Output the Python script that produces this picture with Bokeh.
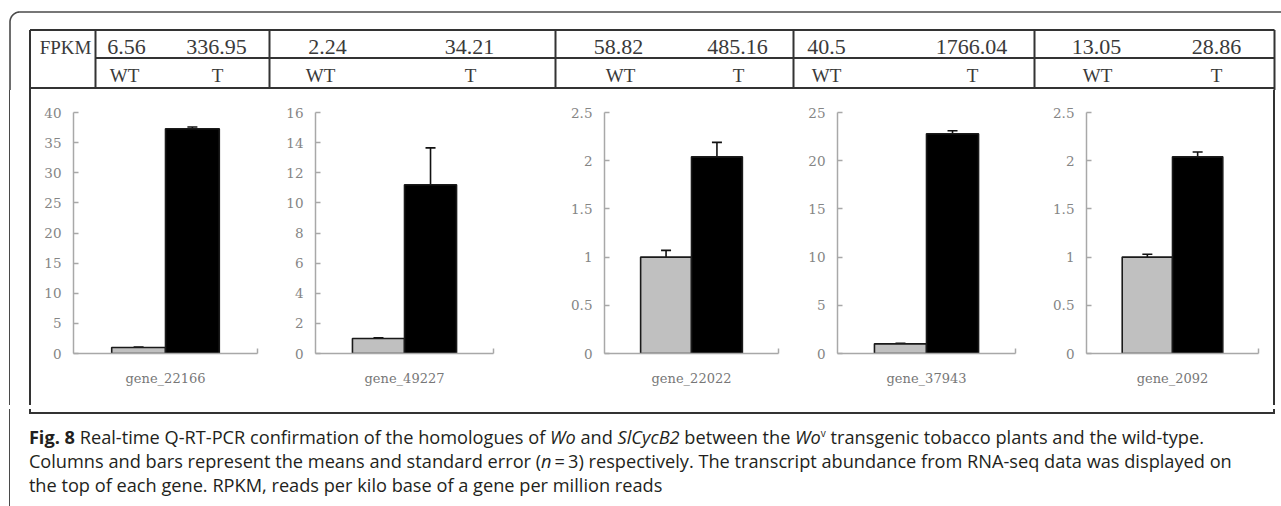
import numpy as np
from bokeh.plotting import figure
from bokeh.models import (Range1d, FixedTicker, Whisker, TeeHead, ColumnDataSource,
                          NumeralTickFormatter, CustomJSTickFormatter, Div)
from bokeh.layouts import row, column
from bokeh.core.properties import value
from bokeh.embed import file_html
from bokeh.resources import INLINE

# ---------------- data ----------------
genes = ["gene_22166", "gene_49227", "gene_22022", "gene_37943", "gene_2092"]
groups = ["WT", "T"]
fpkm_wt = [6.56, 2.24, 58.82, 40.5, 13.05]
fpkm_t = [336.95, 34.21, 485.16, 1766.04, 28.86]
wt_mean = [1.0, 1.0, 1.0, 1.0, 1.0]
wt_se = [0.08, 0.05, 0.07, 0.05, 0.03]
t_mean = [37.3, 11.2, 2.04, 22.8, 2.04]
t_se = [0.3, 2.45, 0.15, 0.3, 0.05]
y_max = [40, 16, 2.5, 25, 2.5]
y_step = [5, 2, 0.5, 5, 0.5]

# ---------------- layout / style constants (page pixels) ----------------
PAGE_L, PAGE_R = 0, 1281
TOP_Y0, TOP_Y1 = 0, 90
MID_H = 315
MID_Y1 = TOP_Y1 + MID_H
STRIP_H = 8
CAP_H = 506 - MID_Y1 - STRIP_H
OUTER_X, OUTER_Y, OUTER_R = 9.5, 11.5, 10
BOX_L, BOX_R = 29.5, 1274
TAB_TOP, TAB_MID, TAB_BOT = 29.5, 57.5, 87.5
BOX_BOT = 409
COL_EDGES = [95, 269, 555, 793, 1034]
FPKM_X = 65
NUM_WT_X = [126, 327, 618, 826, 1096]
NUM_T_X = [216, 469, 737, 971, 1216]
WT_X = [124, 320, 620, 826, 1097]
T_X = [217, 470, 738, 972, 1216]
ROW1_MID, ROW2_MID = 46.5, 75

PANEL_W = [240, 280, 240, 240, 223]
PANEL_BL = [33, 35, 44, 37, 46]
PANEL_BR = [23, 67, 22, 25, 5]
LEFT_W = 40
RIGHT_W = PAGE_R - PAGE_L - LEFT_W - sum(PANEL_W)
X_LO, X_HI = -0.21, 3.21

LINE_C = "#333333"
OUTER_C = "#4a4a4a"
AXIS_C = "#a8a8a8"
TEXT_C = "#3a3a3a"
WT_COLOR, T_COLOR = "#c0c0c0", "#000000"
SERIF = "Liberation Serif"
TICK_FONT = "DejaVu Serif"


def blank_fig(w, h, xr, yr):
    p = figure(width=w, height=h, x_range=Range1d(*xr), y_range=Range1d(*yr),
               x_axis_type=None, y_axis_type=None, min_border=0,
               toolbar_location=None, output_backend="svg")
    p.outline_line_color = None
    p.frame_align = False
    return p


def vline_html(h, lines):
    return "".join(
        '<div style="position:absolute; left:%.1fpx; top:0; width:0; height:%dpx; '
        'border-left:%.1fpx solid %s;"></div>' % (x - lw / 2, h, lw, c)
        for x, lw, c in lines)


def vline_div(w, h, lines):
    return Div(text='<div style="position:relative; width:%dpx; height:%dpx;">%s</div>'
               % (w, h, vline_html(h, lines)), width=w, height=h, margin=0)


# ---------------- top table ----------------
top = blank_fig(PAGE_R - PAGE_L, TOP_Y1 - TOP_Y0, (PAGE_L, PAGE_R), (TOP_Y1, TOP_Y0))
t = np.linspace(0, np.pi / 2, 20)
cx, cy = OUTER_X + OUTER_R, OUTER_Y + OUTER_R
top.line(list(cx - OUTER_R * np.cos(t)), list(cy - OUTER_R * np.sin(t)), line_color=OUTER_C, line_width=1.6)
top.segment(x0=[cx, OUTER_X], y0=[OUTER_Y, cy], x1=[PAGE_R, OUTER_X], y1=[OUTER_Y, TOP_Y1],
            line_color=OUTER_C, line_width=1.6)
hx0 = [BOX_L, COL_EDGES[0], BOX_L]
hy = [TAB_TOP, TAB_MID, TAB_BOT]
hx1 = [BOX_R, BOX_R, BOX_R]
top.segment(x0=hx0, y0=hy, x1=hx1, y1=hy, line_color=LINE_C, line_width=2)
vx = [BOX_L] + COL_EDGES + [BOX_R]
vy1 = [TOP_Y1] + [TAB_BOT] * len(COL_EDGES) + [TOP_Y1]
top.segment(x0=vx, y0=[TAB_TOP] * len(vx), x1=vx, y1=vy1, line_color=LINE_C, line_width=2)
top.text(x=[FPKM_X], y=[ROW1_MID], text=["FPKM"], text_align="center", text_baseline="middle",
         text_font=value(SERIF), text_font_size="19px", text_color=TEXT_C)
top.text(x=NUM_WT_X + NUM_T_X, y=[ROW1_MID] * 10,
         text=[str(v) for v in fpkm_wt] + [str(v) for v in fpkm_t],
         text_align="center", text_baseline="middle",
         text_font=value(SERIF), text_font_size="22px", text_color=TEXT_C)
top.text(x=WT_X + T_X, y=[ROW2_MID] * 10,
         text=[groups[0]] * 5 + [groups[1]] * 5,
         text_align="center", text_baseline="middle",
         text_font=value(SERIF), text_font_size="19px", text_color=TEXT_C)

# ---------------- side strips (frame lines) ----------------
left = vline_div(LEFT_W, MID_H, [(OUTER_X - PAGE_L, 1.6, OUTER_C), (BOX_L - PAGE_L, 2.0, LINE_C)])
right = vline_div(RIGHT_W, MID_H, [(BOX_R - (PAGE_R - RIGHT_W), 2.0, LINE_C)])


# ---------------- panels ----------------
def make_panel(i):
    p = figure(width=PANEL_W[i], height=MID_H, x_range=Range1d(X_LO, X_HI),
               y_range=Range1d(0, y_max[i]),
               min_border_left=PANEL_BL[i], min_border_right=PANEL_BR[i],
               min_border_top=22, min_border_bottom=52,
               toolbar_location=None, output_backend="svg")
    p.outline_line_color = None
    p.xgrid.visible = False
    p.ygrid.visible = False
    xs = [k + 1 for k in range(len(groups))]
    means = [wt_mean[i], t_mean[i]]
    ses = [wt_se[i], t_se[i]]
    src = ColumnDataSource(dict(x=xs, top=means, lower=means,
                                upper=[m + s for m, s in zip(means, ses)],
                                color=[WT_COLOR, T_COLOR]))
    p.vbar(x="x", top="top", bottom=0, width=1.0, fill_color="color",
           line_color="#1a1a1a", line_width=1.6, source=src)
    p.add_layout(Whisker(base="x", lower="lower", upper="upper", source=src,
                         line_color="#111111", line_width=1.6,
                         upper_head=TeeHead(size=10, line_color="#111111", line_width=1.6),
                         lower_head=None))
    ticks = list(np.arange(0, y_max[i] + y_step[i] / 2, y_step[i]))
    ya = p.yaxis[0]
    ya.ticker = FixedTicker(ticks=ticks)
    ya.formatter = NumeralTickFormatter(format="0.[0]")
    ya.major_tick_in = 5
    ya.major_tick_out = 0
    ya.minor_tick_line_color = None
    ya.axis_line_color = AXIS_C
    ya.axis_line_width = 1.5
    ya.major_tick_line_color = AXIS_C
    ya.major_tick_line_width = 1.5
    ya.major_label_text_font = TICK_FONT
    ya.major_label_text_font_size = "13.5px"
    ya.major_label_text_color = "#858585"
    ya.major_label_standoff = 12
    xa = p.xaxis[0]
    xa.ticker = FixedTicker(ticks=[X_HI - 1e-6])
    xa.formatter = CustomJSTickFormatter(code="return ''")
    xa.major_label_standoff = 0
    xa.major_tick_in = 5
    xa.major_tick_out = 0
    xa.minor_tick_line_color = None
    xa.axis_line_color = AXIS_C
    xa.axis_line_width = 1.5
    xa.major_tick_line_color = AXIS_C
    xa.major_tick_line_width = 1.5
    xa.axis_label = genes[i]
    xa.axis_label_text_font = TICK_FONT
    xa.axis_label_text_font_size = "13px"
    xa.axis_label_text_font_style = "normal"
    xa.axis_label_text_color = "#777777"
    xa.axis_label_standoff = 17
    return p


panels = [make_panel(i) for i in range(len(genes))]
mid = row([left] + panels + [right], spacing=0)

# ---------------- bottom strip (box bottom edge) ----------------
box_h = BOX_BOT - MID_Y1
bot_html = (
    '<div style="position:relative; width:%dpx; height:%dpx;">%s'
    '<div style="position:absolute; box-sizing:border-box; left:%.1fpx; top:0; width:%.1fpx; height:%.1fpx; '
    'border-left:2px solid %s; border-right:2px solid %s; border-bottom:2px solid %s;"></div></div>'
    % (PAGE_R - PAGE_L, STRIP_H, vline_html(STRIP_H, [(OUTER_X - PAGE_L, 1.6, OUTER_C)]),
       BOX_L - 1, BOX_R - BOX_L + 2, box_h + 1, LINE_C, LINE_C, LINE_C)
)
bot = Div(text=bot_html, width=PAGE_R - PAGE_L, height=STRIP_H, margin=0)

# ---------------- caption ----------------
cap_html = (
    '<div style="box-sizing:border-box; height:%dpx; width:%dpx; margin-left:%.1fpx; '
    'border-left:1.6px solid %s; padding-left:%.1fpx; padding-top:12px; '
    'font-family:\'Open Sans\'; font-size:18.2px; line-height:24px; color:#231f20; white-space:nowrap;">'
    '<b>Fig. 8</b> Real-time Q-RT-PCR confirmation of the homologues of <i>Wo</i> and <i>SlCycB2</i> '
    'between the <i>Wo</i><sup style="font-size:10px; line-height:0;">v</sup> transgenic tobacco plants and the wild-type.<br>'
    'Columns and bars represent the means and standard error (<i>n</i>&#8201;=&#8201;3) respectively. '
    'The transcript abundance from RNA-seq data was displayed on<br>'
    'the top of each gene. RPKM, reads per kilo base of a gene per million reads'
    '</div>' % (CAP_H, PAGE_R - PAGE_L - 10, OUTER_X - 0.8, OUTER_C, BOX_L - OUTER_X - 0.8)
)
cap = Div(text=cap_html, width=PAGE_R - PAGE_L, height=CAP_H, margin=0)

root = column([top, mid, bot, cap], spacing=0)
open("out.html", "w").write(file_html(root, INLINE))
